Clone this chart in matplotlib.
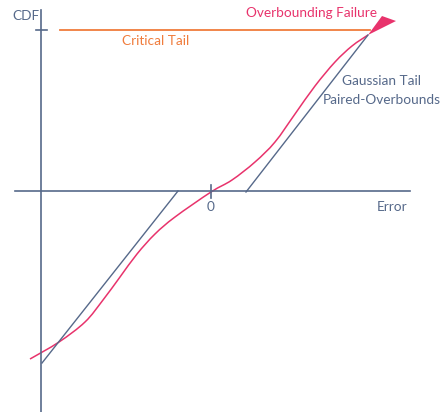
import matplotlib.pyplot as plt
from matplotlib.patches import Polygon, PathPatch
from matplotlib.path import Path

# diagram laid out in pixel units (y grows downwards)
axis_x = 41
axis_y = 191
crit_y = 30

# measured CDF (pink) trace
cdf_x = [30, 59, 85, 103, 120, 137, 155, 175, 211, 232, 255, 275, 295, 315,
         335, 352, 368]
cdf_y = [359, 342, 322, 300, 277, 254, 234, 217, 192, 180, 162, 142, 114, 86,
         62, 46, 35]

# gaussian tail paired overbounds (straight lines)
left_x = [42, 178]
left_y = [363, 191]
right_x = [246, 368]
right_y = [192, 35]

# failure cone
cone_x = [368, 382, 396]
cone_y = [35, 16, 21]

slate = '#56698a'
pink = '#e8336c'
orange = '#f07c3c'


def smooth_path(xs, ys):
    # catmull-rom through the points, handed to matplotlib as cubic beziers
    pts = list(zip(xs, ys))
    verts = [pts[0]]
    codes = [Path.MOVETO]
    n = len(pts)
    for i in range(n - 1):
        p0 = pts[max(i - 1, 0)]
        p1 = pts[i]
        p2 = pts[i + 1]
        p3 = pts[min(i + 2, n - 1)]
        c1 = (p1[0] + (p2[0] - p0[0]) / 6, p1[1] + (p2[1] - p0[1]) / 6)
        c2 = (p2[0] - (p3[0] - p1[0]) / 6, p2[1] - (p3[1] - p1[1]) / 6)
        verts += [c1, c2, p2]
        codes += [Path.CURVE4] * 3
    return Path(verts, codes)


plt.rcParams['font.family'] = ['Lato', 'DejaVu Sans']

fig = plt.figure(figsize=(4.4, 4.12), dpi=100)
ax = fig.add_axes([0, 0, 1, 1])
ax.set_xlim(0, 440)
ax.set_ylim(412, 0)
ax.axis('off')

# axes
ax.plot([axis_x, axis_x], [10, 412], color=slate, lw=1.2)
ax.plot([15, 410], [axis_y, axis_y], color=slate, lw=1.2)
ax.plot([36, 47], [crit_y, crit_y], color=slate, lw=1.2)
ax.plot([211, 211], [185, 198], color=slate, lw=1.2)

# critical tail
ax.plot([60, 370], [crit_y, crit_y], color=orange, lw=1.3)

ax.plot(left_x, left_y, color=slate, lw=1.0)
ax.plot(right_x, right_y, color=slate, lw=1.0)
ax.add_patch(PathPatch(smooth_path(cdf_x, cdf_y), fill=False, edgecolor=pink, lw=1.1))

ax.add_patch(Polygon(list(zip(cone_x, cone_y)), closed=True, color=pink, lw=0))

fs = 9.8
ax.text(12, 16, 'CDF', color=slate, fontsize=fs, va='center', ha='left')
ax.text(122, 41, 'Critical Tail', color=orange, fontsize=fs, va='center', ha='left')
ax.text(246, 13, 'Overbounding Failure', color=pink, fontsize=fs, va='center', ha='left')
ax.text(382, 81, 'Gaussian Tail', color=slate, fontsize=fs, va='center', ha='center')
ax.text(382, 100, 'Paired-Overbounds', color=slate, fontsize=fs, va='center', ha='center')
ax.text(211, 207, '0', color=slate, fontsize=fs, va='center', ha='center')
ax.text(392, 207, 'Error', color=slate, fontsize=fs, va='center', ha='center')

fig.savefig('out.png', dpi=100, facecolor='white')
